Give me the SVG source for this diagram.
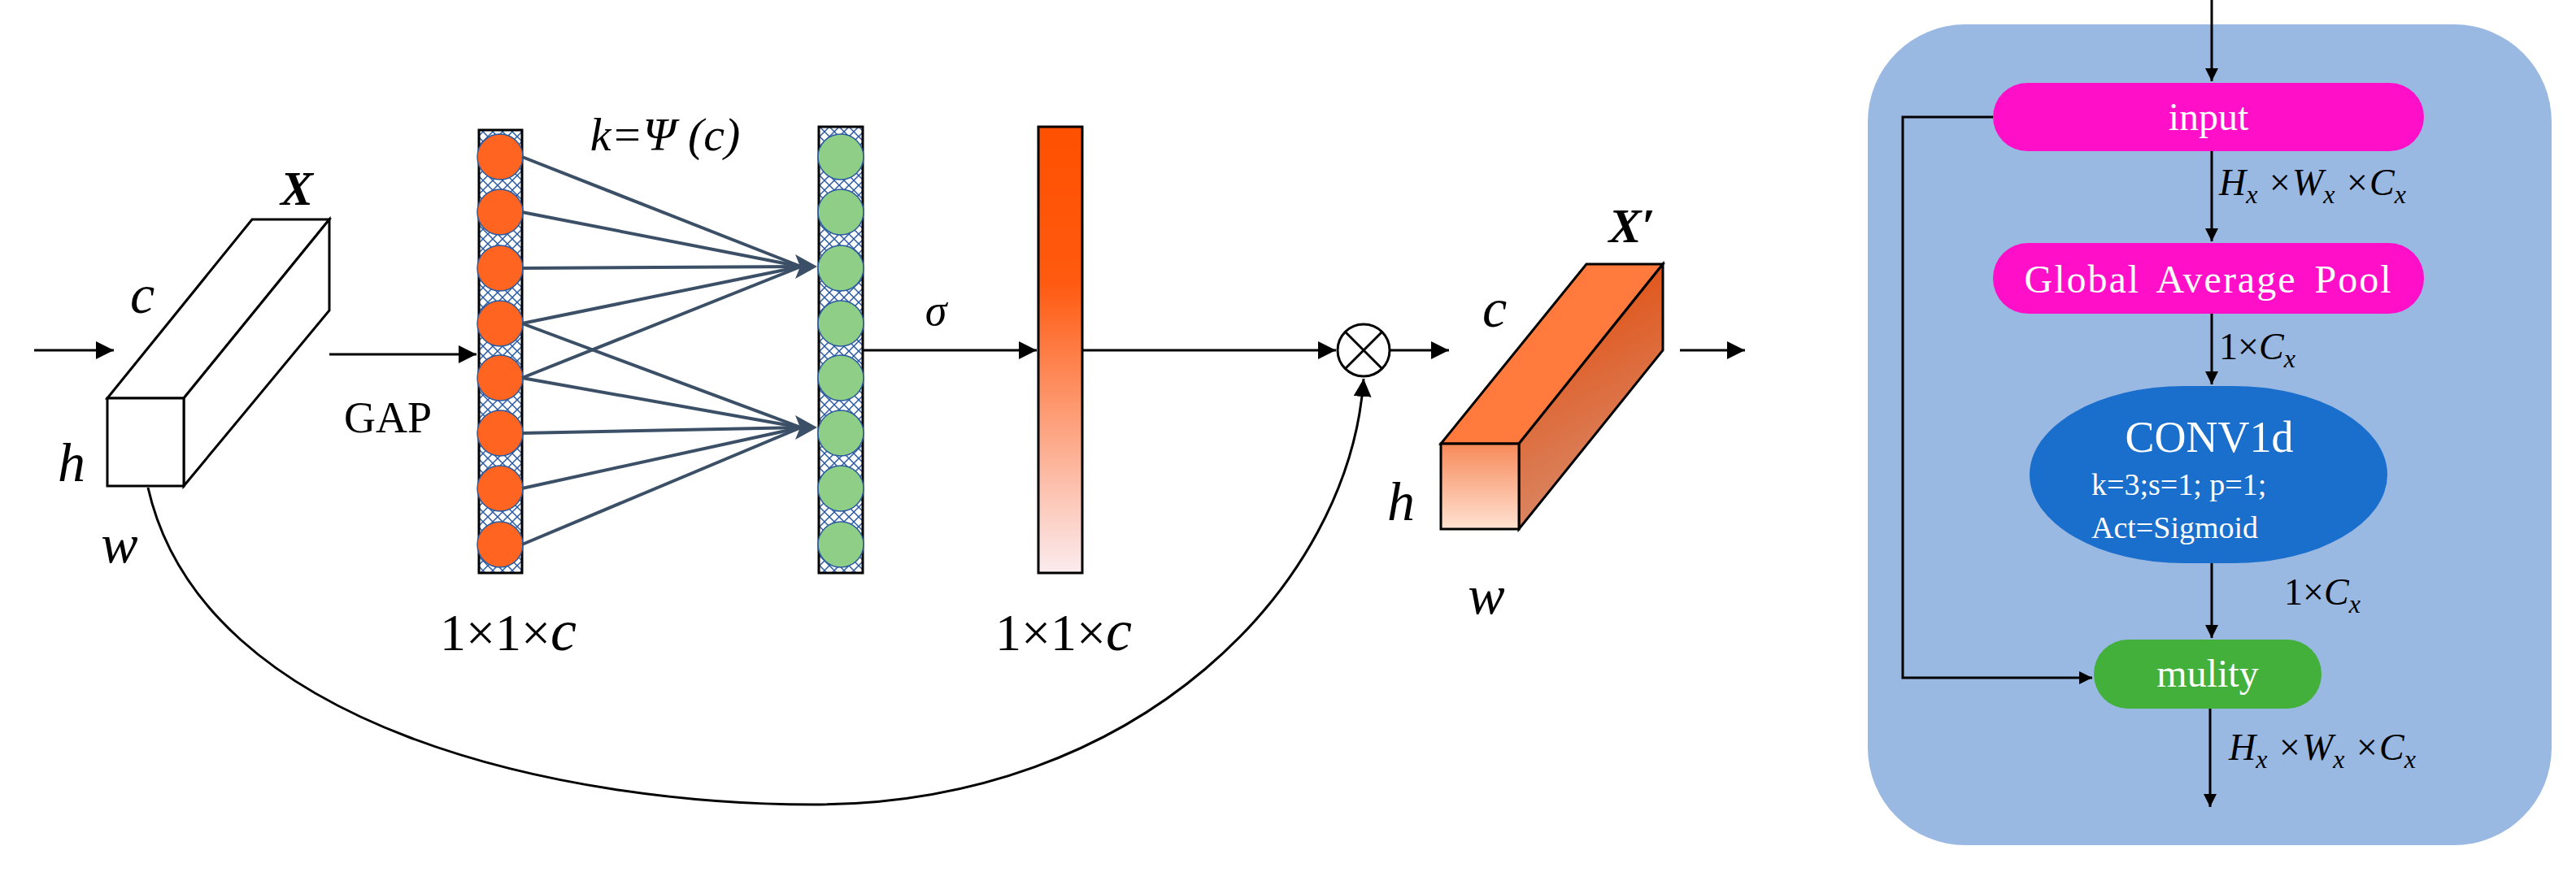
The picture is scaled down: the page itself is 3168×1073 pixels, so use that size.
<svg xmlns="http://www.w3.org/2000/svg" width="3168" height="1073" viewBox="0 0 3168 1073">
<style>
.ln{stroke:#000;stroke-width:3;fill:none}
.fan{stroke:#3b4f66;stroke-width:4;fill:none}
.t{font-family:"Liberation Serif",serif;fill:#000}
.it{font-style:italic}
.w{fill:#fff;font-family:"Liberation Serif",serif;text-anchor:middle}
</style>
<defs>
<marker id="ah2" viewBox="0 0 10 10" refX="10" refY="5" markerWidth="22" markerHeight="22" markerUnits="userSpaceOnUse" orient="auto"><path d="M0,0 L10,5 L0,10 z" fill="#000"/></marker>
<marker id="ahs" viewBox="0 0 10 10" refX="10" refY="5" markerWidth="16" markerHeight="16" markerUnits="userSpaceOnUse" orient="auto"><path d="M0,0 L10,5 L0,10 z" fill="#000"/></marker>
<linearGradient id="bar" x1="0" y1="0" x2="0" y2="1"><stop offset="0" stop-color="#ff5000"/><stop offset="0.35" stop-color="#ff5a10"/><stop offset="1" stop-color="#fbecef"/></linearGradient>
<linearGradient id="ff" x1="0" y1="0" x2="0" y2="1"><stop offset="0" stop-color="#f78a5a"/><stop offset="1" stop-color="#ffe2d2"/></linearGradient>
<linearGradient id="rf" x1="0" y1="0" x2="0.3" y2="1"><stop offset="0" stop-color="#e44400"/><stop offset="1" stop-color="#d88a6a"/></linearGradient>
<pattern id="hatch" width="12" height="12" patternUnits="userSpaceOnUse"><rect width="12" height="12" fill="#fff"/><path d="M0,0 L12,12 M12,0 L0,12" stroke="#2a5aa0" stroke-width="1.5"/></pattern>
</defs>

<g id="boxX">
<polygon points="132,490 310,270 405,270 226,490" fill="#fff" stroke="#000" stroke-width="3"/>
<polygon points="226,490 405,270 405,382 226,598" fill="#fff" stroke="#000" stroke-width="3"/>
<rect x="132" y="490" width="94" height="108" fill="#fff" stroke="#000" stroke-width="3"/>
<text class="t it" x="365" y="252" font-size="60" font-weight="bold" text-anchor="middle">X</text>
<text class="t it" x="175" y="385" font-size="68" text-anchor="middle">c</text>
<text class="t it" x="88" y="592" font-size="68" text-anchor="middle">h</text>
<text class="t it" x="147" y="692" font-size="68" text-anchor="middle">w</text>
</g>

<g id="col1">
<rect x="589" y="160" width="53" height="545" fill="url(#hatch)" stroke="#000" stroke-width="3"/>
<g fill="#ff6420" stroke="#2a5aa0" stroke-width="1.5">
<circle cx="615" cy="193" r="28"/><circle cx="615" cy="261" r="28"/><circle cx="615" cy="330" r="28"/><circle cx="615" cy="398" r="28"/>
<circle cx="615" cy="465" r="28"/><circle cx="615" cy="533" r="28"/><circle cx="615" cy="601" r="28"/><circle cx="615" cy="670" r="28"/>
</g>
<text class="t" x="625" y="800" font-size="64" text-anchor="middle">1×1×<tspan font-style="italic" font-size="72">c</tspan></text>
<text class="t" x="477" y="532" font-size="54" text-anchor="middle">GAP</text>
<text class="t it" x="818" y="185" font-size="58" text-anchor="middle">k=Ψ (c)</text>
</g>

<g id="col2">
<rect x="1007" y="156" width="54" height="549" fill="url(#hatch)" stroke="#000" stroke-width="3"/>
<g fill="#8fce86" stroke="#2a5aa0" stroke-width="1.5">
<circle cx="1034" cy="193" r="28"/><circle cx="1034" cy="261" r="28"/><circle cx="1034" cy="330" r="28"/><circle cx="1034" cy="398" r="28"/>
<circle cx="1034" cy="465" r="28"/><circle cx="1034" cy="533" r="28"/><circle cx="1034" cy="601" r="28"/><circle cx="1034" cy="670" r="28"/>
</g>
</g>

<g id="bar">
<rect x="1277" y="156" width="54" height="549" fill="url(#bar)" stroke="#000" stroke-width="3"/>
<text class="t" x="1308" y="800" font-size="64" text-anchor="middle">1×1×<tspan font-style="italic" font-size="72">c</tspan></text>
<text class="t it" x="1151" y="400" font-size="54" text-anchor="middle">σ</text>
</g>

<g id="mult">
<circle cx="1677" cy="431" r="32" fill="#fff" stroke="#000" stroke-width="3"/>
<path d="M1654,408 L1700,454 M1700,408 L1654,454" stroke="#000" stroke-width="3"/>
</g>

<g id="boxX2">
<polygon points="1772,546 1951,325 2045,325 1868,546" fill="#ff7a3c" stroke="#000" stroke-width="3"/>
<polygon points="1868,546 2045,325 2045,431 1868,651" fill="url(#rf)" stroke="#000" stroke-width="3"/>
<rect x="1772" y="546" width="96" height="105" fill="url(#ff)" stroke="#000" stroke-width="3"/>
<text class="t it" x="2007" y="298" font-size="60" font-weight="bold" text-anchor="middle">X′</text>
<text class="t it" x="1838" y="402" font-size="68" text-anchor="middle">c</text>
<text class="t it" x="1723" y="640" font-size="68" text-anchor="middle">h</text>
<text class="t it" x="1828" y="755" font-size="68" text-anchor="middle">w</text>
</g>

<g id="connectors">
<line class="ln" x1="42" y1="431" x2="140" y2="431" marker-end="url(#ah2)"/>
<line class="ln" x1="405" y1="436" x2="586" y2="436" marker-end="url(#ah2)"/>
<g class="fan">
<line x1="642" y1="193" x2="985" y2="328"/><line x1="642" y1="261" x2="985" y2="328"/><line x1="642" y1="330" x2="985" y2="328"/>
<line x1="642" y1="398" x2="985" y2="328"/><line x1="642" y1="465" x2="985" y2="328"/>
<line x1="642" y1="398" x2="985" y2="526"/><line x1="642" y1="465" x2="985" y2="526"/><line x1="642" y1="533" x2="985" y2="526"/>
<line x1="642" y1="601" x2="985" y2="526"/><line x1="642" y1="670" x2="985" y2="526"/>
</g>
<polygon points="1005,328 978,313 984,328 978,343" fill="#3b4f66"/>
<polygon points="1005,526 978,511 984,526 978,541" fill="#3b4f66"/>
<line class="ln" x1="1061" y1="431" x2="1275" y2="431" marker-end="url(#ah2)"/>
<line class="ln" x1="1331" y1="431" x2="1643" y2="431" marker-end="url(#ah2)"/>
<line class="ln" x1="1710" y1="431" x2="1782" y2="431" marker-end="url(#ah2)"/>
<line class="ln" x1="2066" y1="431" x2="2146" y2="431" marker-end="url(#ah2)"/>
<path class="ln" d="M182,600 C250,900 700,990 1000,990 C1400,990 1660,720 1677,466" marker-end="url(#ah2)"/>
</g>

<g id="panel">
<rect x="2297" y="30" width="841" height="1010" rx="120" fill="#99b8e2"/>
</g>
<g id="input"><rect x="2451" y="102" width="530" height="84" rx="42" fill="#ff10c8"/><text class="w" x="2716" y="160" font-size="48">input</text></g>
<g id="gap"><rect x="2451" y="299" width="530" height="87" rx="43" fill="#ff10c8"/><text class="w" x="2716" y="360" font-size="48" letter-spacing="2" word-spacing="8">Global Average Pool</text></g>
<g id="conv"><rect x="2496" y="475" width="440" height="218" rx="190" ry="109" fill="#1a6fcc"/>
<text class="w" x="2717" y="556" font-size="54">CONV1d</text>
<text class="w" x="2572" y="609" font-size="38" style="text-anchor:start">k=3;s=1; p=1;</text>
<text class="w" x="2572" y="662" font-size="38" style="text-anchor:start">Act=Sigmoid</text></g>
<g id="mulity"><rect x="2575" y="787" width="280" height="85" rx="42" fill="#44b03c"/><text class="w" x="2715" y="845" font-size="48">mulity</text></g>
<g id="panel-labels" class="t it" font-size="46">
<text x="2729" y="240">H<tspan font-size="32" dy="10">x</tspan><tspan dy="-10"> ×W</tspan><tspan font-size="32" dy="10">x</tspan><tspan dy="-10"> ×C</tspan><tspan font-size="32" dy="10">x</tspan></text>
<text x="2729" y="442"><tspan font-style="normal">1×</tspan>C<tspan font-size="32" dy="10">x</tspan></text>
<text x="2809" y="744"><tspan font-style="normal">1×</tspan>C<tspan font-size="32" dy="10">x</tspan></text>
<text x="2741" y="935">H<tspan font-size="32" dy="10">x</tspan><tspan dy="-10"> ×W</tspan><tspan font-size="32" dy="10">x</tspan><tspan dy="-10"> ×C</tspan><tspan font-size="32" dy="10">x</tspan></text>
</g>
<g id="panel-connectors">
<line class="ln" x1="2720" y1="0" x2="2720" y2="100" marker-end="url(#ahs)"/>
<line class="ln" x1="2720" y1="186" x2="2720" y2="297" marker-end="url(#ahs)"/>
<line class="ln" x1="2720" y1="386" x2="2720" y2="473" marker-end="url(#ahs)"/>
<line class="ln" x1="2720" y1="693" x2="2720" y2="785" marker-end="url(#ahs)"/>
<line class="ln" x1="2718" y1="872" x2="2718" y2="993" marker-end="url(#ahs)"/>
<path class="ln" d="M2451,144 L2340,144 L2340,834 L2573,834" marker-end="url(#ahs)"/>
</g>
</svg>
